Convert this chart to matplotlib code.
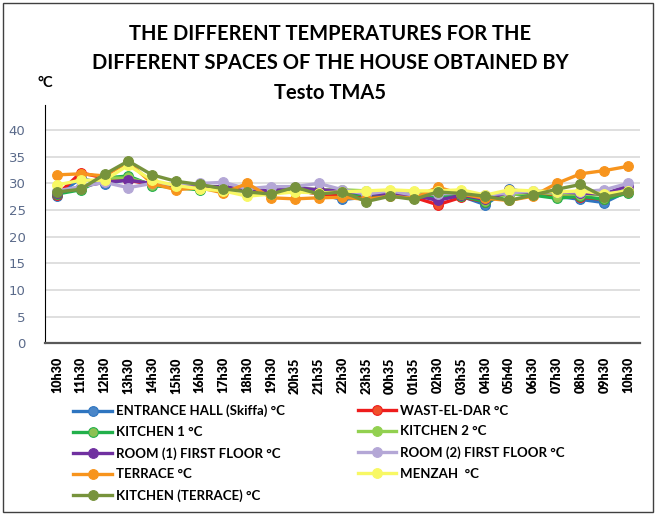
import numpy as np
import matplotlib as mpl
mpl.use('Agg')
import matplotlib.pyplot as plt
from matplotlib.patches import Rectangle

narrow = ['Lato', 'DejaVu Sans']

times = ['10h30', '11h30', '12h30', '13h30', '14h30', '15h30', '16h30', '17h30',
         '18h30', '19h30', '20h35', '21h35', '22h30', '23h35', '00h35', '01h35',
         '02h30', '03h35', '04h30', '05h40', '06h30', '07h30', '08h30', '09h30', '10h30']

entrance = [27.6, 31.0, 29.8, 30.8, 29.8, 29.4, 29.0, 29.0, 28.6, 28.4, 28.8, 28.0, 27.0,
            27.4, 27.8, 27.4, 27.4, 27.6, 26.0, 29.0, 28.0, 27.6, 27.0, 26.4, 28.6]
wast_el_dar = [27.8, 32.0, 31.0, 30.6, 29.8, 29.4, 29.0, 29.0, 28.8, 28.4, 28.8, 28.0, 27.6,
               27.4, 27.8, 27.4, 26.0, 27.4, 26.6, 28.8, 28.0, 27.6, 27.4, 27.0, 28.6]
kitchen1 = [28.0, 28.8, 31.0, 31.4, 29.6, 29.2, 28.8, 29.2, 28.6, 28.6, 29.0, 28.6, 28.2,
            27.8, 28.0, 27.4, 27.8, 27.6, 26.6, 28.0, 27.8, 27.2, 27.6, 27.0, 28.2]
kitchen2 = [28.4, 29.2, 31.0, 31.0, 29.8, 29.6, 29.4, 29.4, 28.6, 28.6, 29.2, 28.8, 28.8,
            28.6, 28.4, 28.0, 28.4, 28.4, 27.6, 27.8, 28.4, 28.0, 28.0, 27.8, 28.8]
room1 = [28.2, 29.4, 30.2, 30.6, 30.0, 29.6, 29.4, 29.4, 28.8, 28.6, 29.2, 28.8, 28.6,
         28.0, 28.0, 27.8, 26.8, 27.8, 27.0, 28.4, 28.4, 28.4, 28.2, 28.0, 29.6]
room2 = [28.6, 29.4, 30.2, 29.2, 30.0, 29.8, 30.0, 30.2, 29.0, 29.4, 29.4, 30.0, 28.8,
         28.0, 28.6, 27.8, 28.0, 28.2, 27.8, 28.2, 28.6, 28.4, 28.4, 28.8, 30.0]
terrace = [31.6, 31.8, 31.4, 34.0, 30.0, 28.8, 29.2, 28.2, 30.0, 27.3, 27.1, 27.3, 27.4,
           27.0, 27.6, 27.2, 29.3, 28.0, 27.2, 26.8, 27.6, 30.0, 31.8, 32.4, 33.2]
menzah = [29.7, 30.6, 30.6, 33.4, 30.6, 29.6, 29.0, 28.6, 27.6, 28.0, 28.4, 28.2, 28.4,
          28.6, 28.8, 28.6, 28.6, 28.8, 27.8, 28.8, 28.6, 28.4, 28.6, 28.0, 28.6]
kitchen_terrace = [28.4, 28.9, 31.7, 34.2, 31.6, 30.4, 29.8, 29.0, 28.4, 28.0, 29.3, 28.0, 28.4,
                   26.6, 27.6, 27.0, 28.4, 28.1, 27.6, 26.8, 27.8, 28.9, 29.8, 27.4, 28.3]

series = [
    ('ENTRANCE HALL (Skiffa) °C', entrance, '#2e75c0', '#4a86c8'),
    ('WAST-EL-DAR °C', wast_el_dar, '#ee1c1c', '#f0502a'),
    ('KITCHEN 1 °C', kitchen1, '#22b04b', '#8cc152'),
    ('KITCHEN 2 °C', kitchen2, '#92d050', '#92d050'),
    ('ROOM (1) FIRST FLOOR °C', room1, '#7030a0', '#7030a0'),
    ('ROOM (2) FIRST FLOOR °C', room2, '#b4a7d6', '#b4a7d6'),
    ('TERRACE °C', terrace, '#f7941d', '#f7941d'),
    ('MENZAH  °C', menzah, '#f8f864', '#f8f864'),
    ('KITCHEN (TERRACE) °C', kitchen_terrace, '#77933c', '#77933c'),
]

fig = plt.figure(figsize=(6.56, 5.15), dpi=100)
ax = fig.add_axes([0.0686, 0.3334, 0.907, 0.4626])

x = np.arange(len(times))
handles = []
for name, vals, lc, mc in series:
    h, = ax.plot(x, vals, color=lc, lw=2.4, marker='o', ms=7,
                 markerfacecolor=mc, markeredgecolor=lc, markeredgewidth=0.8,
                 label=name)
    handles.append(h)

ax.set_xlim(-0.5, len(times) - 0.5)
ax.set_ylim(0, 44.7)
ax.set_yticks(range(0, 45, 5))
ax.yaxis.grid(True, color='#d9d9d9', lw=1.2)
ax.set_axisbelow(True)
ax.set_xticks(x)
ax.set_xticklabels(times, rotation=90, fontweight='heavy', fontsize=9, family=narrow)
ax.tick_params(axis='x', length=0, pad=10)
ax.tick_params(axis='y', length=0, pad=14, labelcolor='#5a6a8a', labelsize=9.5)
for s in ['top', 'right']:
    ax.spines[s].set_visible(False)
ax.spines['left'].set_color('black')
ax.spines['bottom'].set_color('#595959')
ax.spines['bottom'].set_linewidth(1.6)

fig.text(0.503, 0.954, 'THE DIFFERENT TEMPERATURES FOR THE\nDIFFERENT SPACES OF THE HOUSE OBTAINED BY\nTesto TMA5',
         ha='center', va='top', fontsize=14.5, fontweight='bold', family=narrow,
         linespacing=1.6)
fig.text(0.069, 0.838, '°C', ha='center', va='center', fontsize=10.5, fontweight='bold', family=narrow)

col1 = [handles[i] for i in (0, 2, 4, 6, 8)]
col2 = [handles[i] for i in (1, 3, 5, 7)]
for hs, xa in ((col1, 0.112), (col2, 0.545)):
    fig.legend(handles=hs, loc='upper left', bbox_to_anchor=(xa, 0.214),
               frameon=False, prop={'family': narrow, 'weight': 'bold', 'size': 9.5},
               handlelength=2.9, handletextpad=0.3, labelspacing=0.66,
               borderpad=0, borderaxespad=0)

fig.add_artist(Rectangle((0.004, 0.005), 0.992, 0.99, transform=fig.transFigure,
                         fill=False, edgecolor='#404040', lw=1.0))

fig.savefig('out.png', dpi=100)
